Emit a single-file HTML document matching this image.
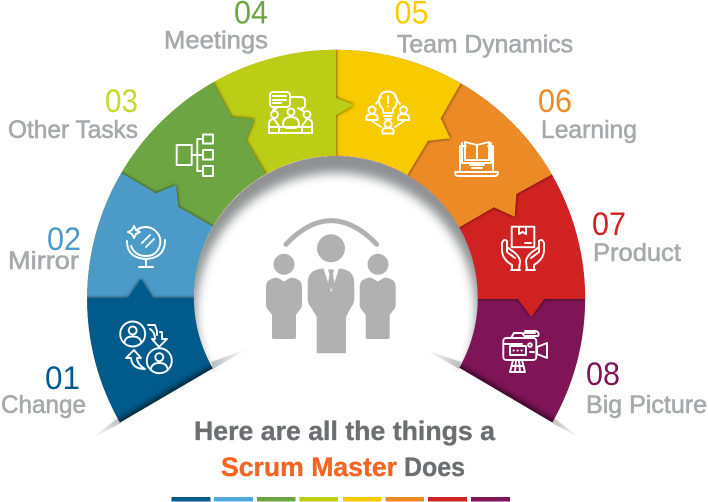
<!DOCTYPE html>
<html><head><meta charset="utf-8"><style>
html,body{margin:0;padding:0;background:#fff;width:708px;height:502px;overflow:hidden}
svg{display:block;overflow:hidden}
.l{font-family:"Liberation Sans",sans-serif;font-size:25px;fill:#a7a9ac;stroke:#a7a9ac;stroke-width:.6}
.n{font-family:"Liberation Sans",sans-serif;font-size:32px}
.h{font-family:"Liberation Sans",sans-serif;font-size:27px;font-weight:bold;stroke-width:.35}
.i{fill:none;stroke:#fff;stroke-width:1.9;stroke-linecap:round;stroke-linejoin:round}
</style></head><body>
<svg width="708" height="502" viewBox="0 0 708 502" xmlns="http://www.w3.org/2000/svg">
<defs>
<clipPath id="ring"><path d="M120 422.5A249 249 0 1 1 552.3 422.5L459.3 367.7A142 142 0 1 0 212.7 368.3Z"/></clipPath>
<clipPath id="hole"><circle cx="336" cy="298" r="142"/></clipPath>
<filter id="s" x="-20%" y="-20%" width="140%" height="140%"><feDropShadow dx="0" dy="0" stdDeviation="1.8" flood-color="#000" flood-opacity=".75"/></filter>
<filter id="b5" x="-20%" y="-20%" width="140%" height="140%"><feGaussianBlur stdDeviation="5"/></filter>
<filter id="b3" x="-30%" y="-100%" width="160%" height="300%"><feGaussianBlur stdDeviation="3"/></filter>
<linearGradient id="wl" x1="120" y1="420" x2="92" y2="438" gradientUnits="userSpaceOnUse"><stop offset="0" stop-color="#bdbdbd"/><stop offset="1" stop-color="#fff"/></linearGradient>
<linearGradient id="wl2" x1="213" y1="366" x2="247" y2="349" gradientUnits="userSpaceOnUse"><stop offset="0" stop-color="#bdbdbd"/><stop offset="1" stop-color="#fff"/></linearGradient>
<linearGradient id="wr" x1="552" y1="420" x2="580" y2="438" gradientUnits="userSpaceOnUse"><stop offset="0" stop-color="#bdbdbd"/><stop offset="1" stop-color="#fff"/></linearGradient>
<linearGradient id="wr2" x1="459" y1="366" x2="426" y2="350" gradientUnits="userSpaceOnUse"><stop offset="0" stop-color="#bdbdbd"/><stop offset="1" stop-color="#fff"/></linearGradient>
</defs>

<!-- hole shadow -->
<g clip-path="url(#hole)">
<circle cx="336" cy="298" r="143" fill="#8f9192"/>
<circle cx="336" cy="313" r="140" fill="#fff" filter="url(#b5)"/>
</g>
<rect x="180" y="372" width="320" height="80" fill="#fff"/>

<!-- wedge slivers -->
<polygon points="118,418 92,438 121,423" fill="url(#wl)"/>
<polygon points="211,362 247,349 213,369" fill="url(#wl2)"/>
<polygon points="554,418 580,438 552,423" fill="url(#wr)"/>
<polygon points="461,362 426,350 459,369" fill="url(#wr2)"/>

<!-- segments -->
<g clip-path="url(#ring)">
<rect x="0" y="0" width="708" height="502" fill="#7f1457"/>
<polygon filter="url(#s)" fill="#d12420" points="336,299 477,299 518,299 531.3,317 544,299 708,299 708,0 0,0 0,502"/>
<polygon filter="url(#s)" fill="#ec8b25" points="336,298 459.3,227.3 494,207.3 514.7,216.7 516.3,194 552.3,174.3 650,118 708,0 0,0 0,502"/>
<polygon filter="url(#s)" fill="#f7cb00" points="336,298 407.3,175 428,140.7 450,138.3 440.7,118.3 460.7,83.3 500,15 500,0 0,0 0,502"/>
<polygon filter="url(#s)" fill="#bccd14" points="336,298 336,157 336,115 354,105 336,98 336,0 0,0 0,502"/>
<polygon filter="url(#s)" fill="#6da543" points="336,298 265.7,174 245.7,140 254.3,119.3 231.7,117.3 212.7,81.7 180,25 0,0 0,502"/>
<polygon filter="url(#s)" fill="#4c9ac7" points="336,298 213,226.7 178.3,206.7 176,185 156,193.3 121,172.7 29,119 0,50 0,502"/>
<polygon filter="url(#s)" fill="#005a8c" points="336,298 194,298 153,298 141,279 128,298 0,298 0,502"/>
<!-- inner shading on bottom edges -->
<line x1="100" y1="434" x2="232" y2="357" stroke="#000" stroke-width="5" opacity=".75" filter="url(#b3)"/>
<line x1="572" y1="434" x2="440" y2="357" stroke="#000" stroke-width="5" opacity=".75" filter="url(#b3)"/>
</g>

<!-- central figures -->
<g fill="#b1b1b1">
<path d="M286 244.3Q331 197 376.7 244.3" fill="none" stroke="#b1b1b1" stroke-width="5" stroke-linecap="round"/>
<circle cx="331" cy="248.3" r="14"/>
<circle cx="284" cy="264.3" r="10.5"/>
<circle cx="378" cy="264.3" r="10.5"/>
<path d="M271 279Q275 277 278 278L284 281.5L290 278Q293 277 297 279Q302 281 302 287L302 305Q302 308 299 311L296 315L296 337Q296 339 294 339L274 339Q272 339 272 337L272 315L269 311Q266 308 266 305L266 287Q266 281 271 279Z"/>
<path d="M271 279Q275 277 278 278L284 281.5L290 278Q293 277 297 279Q302 281 302 287L302 305Q302 308 299 311L296 315L296 337Q296 339 294 339L274 339Q272 339 272 337L272 315L269 311Q266 308 266 305L266 287Q266 281 271 279Z" transform="translate(93.700,0)"/>
<path d="M323.500 268.500L330.500 290L331 292L332 290L339 268.500Q346 269 350 272Q354.300 276 354.300 283L354.300 299Q354.300 303 352 306L346 316.700L346 353.300L316.700 353.300L316.700 316.700L310 306Q307.700 303 307.700 299L307.700 283Q307.700 276 312 272Q316 269 323.500 268.500Z"/>
<path d="M328 269.500L334.300 269.500L333 274L334.500 284L331.200 290L328 284L329.300 274Z"/>
</g>

<!-- Icons -->
<g class="i">
<!-- 01 -->
<circle cx="132.700" cy="334" r="12.500"/>
<circle cx="132.700" cy="330.500" r="4"/>
<path d="M124.500 342Q125.500 336.500 132.700 336.500Q140 336.500 141 342"/>
<circle cx="159.300" cy="360.700" r="12.500"/>
<circle cx="159.300" cy="357.200" r="4"/>
<path d="M151 368.700Q152 363 159.300 363Q166.500 363 167.500 368.700"/>
<path d="M148 325L155 325L157 331L157 335M160 332L162 332L162 339L167 339L159 347L152 339L155 339Q155 332 150 329"/>
<path d="M145 369Q132 369 131 358L126 358L134 350L141 358L137 358Q137 364 145 369"/>
<!-- 02 -->
<path d="M138 229Q146 225 153 229Q162 235 160 245Q157 256 146 256Q135 256 131 246"/>
<path d="M127 241Q127 258 146 259Q165 258 165 240"/>
<path d="M146 259L146 267M139 267L153 267"/>
<path d="M134 226L136 230L140 232L136 234L134 238L132 234L128 232L132 230Z"/>
<path d="M142 243L150 235M146 247L154 239"/>
<!-- 03 -->
<rect x="176.700" y="145" width="15" height="20"/>
<rect x="203" y="134.500" width="10" height="9"/>
<rect x="203" y="150" width="10" height="9.500"/>
<rect x="203" y="166" width="10" height="10"/>
<path d="M191.700 155L203 155M197.300 155L197.300 139Q197.300 139 203 139M197.300 155L197.300 171L203 171"/>
<!-- 04 -->
<rect x="270" y="92" width="20" height="15" rx="3"/>
<path d="M274 107L273 111L278 107M273 96L286 96M273 100L286 100M273 103L281 103"/>
<path d="M290 97L301 97Q305 97 305 101L305 106Q305 108 302 108L303 111L298 108"/>
<circle cx="274.500" cy="114.500" r="3.500"/><circle cx="291" cy="112" r="3.500"/><circle cx="307" cy="114.500" r="3.500"/>
<path d="M269 133L269 124Q269 119 274 119L279 126M312 133L312 124Q312 119 307 119L302 126M283 125Q283 117 291 117Q299 117 299 125L296 128L286 128Z"/>
<rect x="269" y="127" width="43" height="6"/>
<path d="M279 127L279 133M302 127L302 133"/>
<!-- 05 -->
<path d="M383 113L383 109Q379 106 379 100Q379.500 92 387.700 91.500Q396 92 397 100Q397 106 393 109L393 113Z"/>
<path d="M384 116L392 116M385 119L391 119M388 96L388 103M388 106L388 106.500"/>
<circle cx="372" cy="110" r="3.500"/><circle cx="403.500" cy="110" r="3.500"/><circle cx="388" cy="124" r="3.500"/>
<path d="M366.500 120L366.500 117Q367 114 372 114Q377 114 377.500 117L377.500 120ZM398 120L398 117Q398.500 114 403.500 114Q408.500 114 409 117L409 120ZM382.500 133.500L382.500 130Q383 128 388 128Q393 128 393.500 130L393.500 133.500Z"/>
<path d="M376 104L381 97M400 104L395 97M372 121L381 127M404 121L395 127"/>
<!-- 06 -->
<path d="M460 171L460 146L466 146M488 146L493 146L493 171"/>
<path d="M455 172L498 172Q498 176 495 176L458 176Q455 176 455 172Z"/>
<path d="M465 160L465 142L477 145L489 142L489 160L477 160L465 160ZM477 145L477 160"/>
<path d="M462 143L462 163L491 163L491 143"/>
<path d="M470 165L484 165M472 168L482 168"/>
<!-- 07 -->
<rect x="511.700" y="226.700" width="22.600" height="20.500"/>
<path d="M519 227L519 234L522.500 232L526 234L526 227M525 243L531 243"/>
<path d="M512 270L512 265Q502 259 502 250L502 243Q504 238 507 241L507 252L515 258M519 270L520 261Q519 255 511 250L507 247"/>
<path d="M534 270L534 265Q544 259 544 250L544 243Q542 238 539 241L539 252L531 258M527 270L526 261Q527 255 535 250L539 247"/>
<path d="M511 270L520 270M526 270L535 270"/>
<!-- 08 -->
<rect x="503.300" y="338" width="33" height="22" rx="3"/>
<path d="M503.300 344L522 344M511 338L514 333L522 333L526 338M524 333L535 333M525 331L536 331Q540 333 538 336L526 336"/>
<rect x="510" y="346" width="16" height="9"/>
<path d="M513.500 350.500L513.800 350.500M517.500 350.500L517.800 350.500M521.500 350.500L521.800 350.500M530 352L534 352"/>
<circle cx="530" cy="345" r="1.800"/>
<path d="M537 347L547 343L547 358L537 354Z"/>
<path d="M513 360L510 372L525 372L522 360M516 360L515 372M519 360L520 372M512 366L523 366"/>
</g>

<!-- labels -->
<text class="n" x="45" y="389" fill="#005a8c" textLength="35" lengthAdjust="spacingAndGlyphs">01</text>
<text class="l" x="1" y="413" textLength="85" lengthAdjust="spacingAndGlyphs">Change</text>
<text class="n" x="47" y="250" fill="#4c9ac7" textLength="34" lengthAdjust="spacingAndGlyphs">02</text>
<text class="l" x="8" y="269" textLength="71" lengthAdjust="spacingAndGlyphs">Mirror</text>
<text class="n" x="105" y="112" fill="#c7d92f" textLength="33" lengthAdjust="spacingAndGlyphs">03</text>
<text class="l" x="8" y="138" textLength="130" lengthAdjust="spacingAndGlyphs">Other Tasks</text>
<text class="n" x="234" y="23.500" fill="#6da543" textLength="34" lengthAdjust="spacingAndGlyphs">04</text>
<text class="l" x="164" y="48.500" textLength="104" lengthAdjust="spacingAndGlyphs">Meetings</text>
<text class="n" x="394.500" y="23.500" fill="#f7cb00" textLength="34" lengthAdjust="spacingAndGlyphs">05</text>
<text class="l" x="397" y="52.500" textLength="176" lengthAdjust="spacingAndGlyphs">Team Dynamics</text>
<text class="n" x="538" y="112" fill="#ec8b25" textLength="34" lengthAdjust="spacingAndGlyphs">06</text>
<text class="l" x="541" y="138" textLength="96" lengthAdjust="spacingAndGlyphs">Learning</text>
<text class="n" x="592" y="235" fill="#d12420" textLength="34" lengthAdjust="spacingAndGlyphs">07</text>
<text class="l" x="593" y="261" textLength="88" lengthAdjust="spacingAndGlyphs">Product</text>
<text class="n" x="586" y="385" fill="#7f1457" textLength="34" lengthAdjust="spacingAndGlyphs">08</text>
<text class="l" x="586" y="413" textLength="121" lengthAdjust="spacingAndGlyphs">Big Picture</text>

<text class="h" x="194" y="440" fill="#6d6e71" stroke="#6d6e71" textLength="301" lengthAdjust="spacingAndGlyphs">Here are all the things a</text>
<text class="h" x="221" y="476" fill="#f26522" stroke="#f26522" textLength="176" lengthAdjust="spacingAndGlyphs">Scrum Master</text>
<text class="h" x="404" y="476" fill="#6d6e71" stroke="#6d6e71" textLength="61" lengthAdjust="spacingAndGlyphs">Does</text>

<!-- colour bars -->
<rect x="171.500" y="497" width="39" height="4.500" fill="#005a8c"/>
<rect x="214" y="497" width="39" height="4.500" fill="#4fa9dc"/>
<rect x="257" y="497" width="38.500" height="4.500" fill="#6da543"/>
<rect x="299.500" y="497" width="38.500" height="4.500" fill="#bccd14"/>
<rect x="343" y="497" width="38.500" height="4.500" fill="#f7cb00"/>
<rect x="385.500" y="497" width="38.500" height="4.500" fill="#ec8b25"/>
<rect x="428" y="497" width="39" height="4.500" fill="#d12420"/>
<rect x="471" y="497" width="39" height="4.500" fill="#7f1457"/>
</svg>
</body></html>
